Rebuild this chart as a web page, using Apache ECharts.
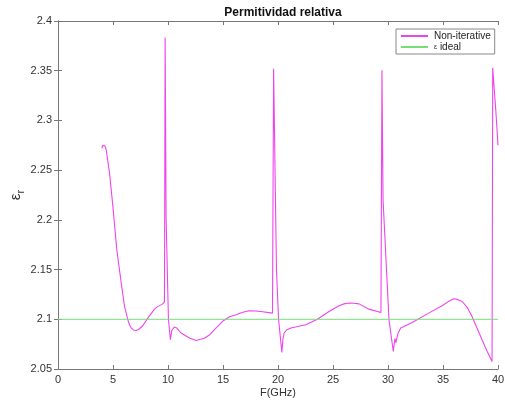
<!DOCTYPE html>
<html>
<head>
<meta charset="utf-8">
<script src="https://cdn.jsdelivr.net/npm/echarts@6/dist/echarts.min.js"></script>
<style>
  html, body { margin: 0; padding: 0; background: #fff; }
  #chart { width: 505px; height: 401px; }
</style>
</head>
<body>
<div id="chart"></div>
<script>
// Frequency samples (GHz)
const freqGHz = [
  3.99, 4.05, 4.15, 4.27, 4.39, 4.69, 4.99, 5.35, 5.75, 6.05,
  6.35, 6.5, 6.66, 6.85, 7.11, 7.35, 7.5, 7.71, 8.16, 8.77,
  9.1, 9.52, 9.68, 9.74, 9.83, 10.04, 10.22, 10.35, 10.58, 10.8,
  11.19, 11.95, 12.55, 13.3, 13.8, 14.2, 15.06, 15.6, 16.18, 16.8,
  17.4, 18.0, 18.6, 19.5, 19.6, 19.86, 20.05, 20.35, 20.45, 20.56,
  20.8, 21.17, 22.53, 23.58, 24.64, 25.55, 26.0, 26.46, 26.9, 27.37,
  28.27, 29.36, 29.45, 29.55, 30.09, 30.48, 30.63, 30.72, 30.9, 31.15,
  32.2, 33.7, 34.92, 35.5, 35.98, 36.3, 36.74, 37.2, 37.64, 38.1,
  38.55, 39.0, 39.46, 39.52, 39.8, 40.0
];
// Relative permittivity, non-iterative extraction
const epsNonIterative = [
  2.272, 2.2748, 2.2762, 2.2745, 2.270, 2.2468, 2.2133, 2.1697, 2.1363, 2.1129,
  2.0995, 2.0945, 2.0912, 2.0893, 2.0888, 2.0900, 2.0913, 2.0935, 2.1012, 2.1102,
  2.1130, 2.1155, 2.1178, 2.3835, 2.2, 2.1, 2.0794, 2.089, 2.0922, 2.0912,
  2.0862, 2.0811, 2.0787, 2.081, 2.0845, 2.0894, 2.0988, 2.1025, 2.1045, 2.107,
  2.1085, 2.1083, 2.1075, 2.1062, 2.352, 2.15, 2.1, 2.0667, 2.080, 2.0862,
  2.0895, 2.0912, 2.0945, 2.100, 2.1078, 2.1136, 2.1155, 2.1163, 2.1162, 2.1155,
  2.1102, 2.1068, 2.3505, 2.22, 2.0995, 2.0677, 2.0807, 2.0765, 2.0855, 2.0912,
  2.0968, 2.1062, 2.1136, 2.118, 2.1206, 2.1200, 2.1179, 2.112, 2.1028, 2.091,
  2.0794, 2.068, 2.0576, 2.353, 2.31, 2.275
];
// Ideal permittivity reference
const idealFreq = [0, 40];
const idealEps = [2.1, 2.1];

const xTicks = { min: 0, max: 40, interval: 5 };
const yTicks = { min: 2.05, max: 2.4, interval: 0.05 };

const fontFam = '"Liberation Sans", Arial, Helvetica, sans-serif';
const axisCol = '#777777';
const textCol = '#333333';

const nonIterData = freqGHz.map((f, i) => [f, epsNonIterative[i]]);
const idealData = idealFreq.map((f, i) => [f, idealEps[i]]);

const tickStyle = { inside: true, length: 4, lineStyle: { color: axisCol, width: 1 } };
const lineStyleAxis = { show: true, lineStyle: { color: axisCol, width: 1 } };

const chart = echarts.init(document.getElementById('chart'), null, { renderer: 'canvas' });
chart.setOption({
  animation: false,
  backgroundColor: '#ffffff',
  title: {
    text: 'Permitividad relativa',
    left: 278, top: 2, textAlign: 'center',
    textStyle: { fontFamily: fontFam, fontSize: 12, fontWeight: 'bold', color: '#111' }
  },
  grid: { left: 58, right: 7, top: 21, bottom: 32, containLabel: false, outerBoundsMode: 'none' },
  legend: {
    orient: 'vertical',
    left: 396, top: 29,
    padding: [2, 4, 2, 4],
    itemGap: 1,
    itemWidth: 27,
    itemHeight: 11,
    borderColor: '#888', borderWidth: 1, borderRadius: 0,
    backgroundColor: '#fff',
    itemStyle: { opacity: 0 },
    data: ['Non-iterative', 'ε ideal'],
    formatter: function (name) {
      return name === 'ε ideal' ? '{s|ε} ideal' : name;
    },
    textStyle: {
      fontFamily: fontFam, fontSize: 10, color: '#222', padding: [0, 0, 0, 1],
      rich: { s: { fontSize: 7, fontFamily: fontFam, color: '#222' } }
    }
  },
  xAxis: [
    {
      type: 'value', min: xTicks.min, max: xTicks.max, interval: xTicks.interval,
      name: 'F(GHz)', nameLocation: 'middle', nameGap: 18, nameMoveOverlap: false,
      nameTextStyle: { fontFamily: fontFam, fontSize: 11, color: textCol },
      axisLine: lineStyleAxis, axisTick: tickStyle,
      axisLabel: { fontFamily: fontFam, fontSize: 11, color: textCol, margin: 5 },
      splitLine: { show: false }
    },
    {
      type: 'value', position: 'top', min: xTicks.min, max: xTicks.max, interval: xTicks.interval,
      axisLine: lineStyleAxis, axisTick: tickStyle, axisLabel: { show: false }, splitLine: { show: false }
    }
  ],
  yAxis: [
    {
      type: 'value', min: yTicks.min, max: yTicks.max, interval: yTicks.interval,
      name: '{e|ε}{s|r}', nameLocation: 'middle', nameGap: 32, nameMoveOverlap: false,
      nameTextStyle: {
        color: textCol,
        rich: {
          e: { fontFamily: fontFam, fontSize: 15, color: textCol, lineHeight: 20, verticalAlign: 'middle' },
          s: { fontFamily: fontFam, fontSize: 11, color: textCol, lineHeight: 20, verticalAlign: 'bottom', padding: [8, 0, 0, 0] }
        }
      },
      axisLine: lineStyleAxis, axisTick: tickStyle,
      axisLabel: {
        fontFamily: fontFam, fontSize: 11, color: textCol, margin: 6,
        formatter: v => String(parseFloat(v.toFixed(2)))
      },
      splitLine: { show: false }
    },
    {
      type: 'value', position: 'right', min: yTicks.min, max: yTicks.max, interval: yTicks.interval,
      axisLine: lineStyleAxis, axisTick: tickStyle, axisLabel: { show: false }, splitLine: { show: false }
    }
  ],
  series: [
    {
      name: 'Non-iterative', type: 'line', xAxisIndex: 0, yAxisIndex: 0,
      data: nonIterData, symbol: 'none', showSymbol: false, smooth: false,
      clip: true,
      lineStyle: { color: '#ee44ee', width: 1.1 },
      itemStyle: { color: '#ee44ee' }
    },
    {
      name: 'ε ideal', type: 'line', xAxisIndex: 0, yAxisIndex: 0,
      data: idealData, symbol: 'none', showSymbol: false,
      lineStyle: { color: '#77dd77', width: 1 },
      itemStyle: { color: '#77dd77' }
    }
  ]
});
</script>
</body>
</html>
